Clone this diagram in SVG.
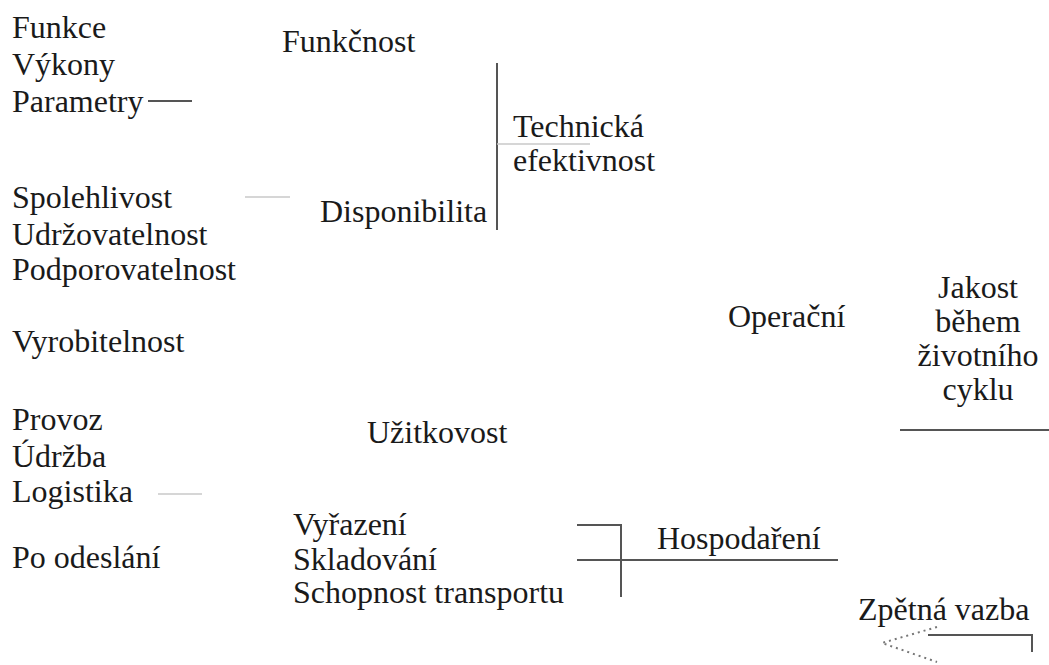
<svg xmlns="http://www.w3.org/2000/svg" width="1049" height="665" viewBox="0 0 1049 665">
<style>
.t{font-family:"Liberation Serif",serif;font-size:32px;fill:#1a1a1a}
.c{text-anchor:middle}
.dark{stroke:#555;stroke-width:2;fill:none}
.light{stroke:#c8c8c8;stroke-width:1.5;fill:none}
.dot{stroke:#777;stroke-width:2;stroke-dasharray:2 4;fill:none}
</style>
<rect width="1049" height="665" fill="#fff"/>
<g id="connectors">
<line class="dark" x1="148" y1="101" x2="192" y2="101"/>
<line class="light" x1="245" y1="197" x2="290" y2="197"/>
<line class="dark" x1="497" y1="63" x2="497" y2="230"/>
<line class="light" x1="497" y1="144" x2="590" y2="144"/>
<line class="dark" x1="900" y1="430" x2="1049" y2="430"/>
<line class="light" x1="158" y1="494" x2="202" y2="494"/>
<polyline class="dark" points="577,525 621,525 621,597"/>
<line class="dark" x1="577" y1="560" x2="838" y2="560"/>
<polyline class="dark" points="1032,652 1032,635 928,635"/>
<polyline class="dot" points="937,627 882,643 937,662"/>
</g>
<g id="n-funkce"><text class="t" style="font-family:'Liberation Serif',serif" x="12" y="38">Funkce</text><text class="t" style="font-family:'Liberation Serif',serif" x="12" y="75">Výkony</text><text class="t" style="font-family:'Liberation Serif',serif" x="12" y="112">Parametry</text></g>
<g id="n-funkcnost"><text class="t" style="font-family:'Liberation Serif',serif" x="282" y="52">Funkčnost</text></g>
<g id="n-spolehlivost"><text class="t" style="font-family:'Liberation Serif',serif" x="12" y="208">Spolehlivost</text><text class="t" style="font-family:'Liberation Serif',serif" x="12" y="245">Udržovatelnost</text><text class="t" style="font-family:'Liberation Serif',serif" x="12" y="280">Podporovatelnost</text></g>
<g id="n-disponibilita"><text class="t" style="font-family:'Liberation Serif',serif" x="320" y="222">Disponibilita</text></g>
<g id="n-technicka"><text class="t" style="font-family:'Liberation Serif',serif" x="513" y="137">Technická</text><text class="t" style="font-family:'Liberation Serif',serif" x="513" y="171">efektivnost</text></g>
<g id="n-vyrobitelnost"><text class="t" style="font-family:'Liberation Serif',serif" x="12" y="352">Vyrobitelnost</text></g>
<g id="n-operacni"><text class="t" style="font-family:'Liberation Serif',serif" x="728" y="327">Operační</text></g>
<g id="n-jakost"><text class="t c" style="font-family:'Liberation Serif',serif" x="978" y="298">Jakost</text><text class="t c" style="font-family:'Liberation Serif',serif" x="978" y="332">během</text><text class="t c" style="font-family:'Liberation Serif',serif" x="978" y="366">životního</text><text class="t c" style="font-family:'Liberation Serif',serif" x="978" y="400">cyklu</text></g>
<g id="n-provoz"><text class="t" style="font-family:'Liberation Serif',serif" x="12" y="430">Provoz</text><text class="t" style="font-family:'Liberation Serif',serif" x="12" y="467">Údržba</text><text class="t" style="font-family:'Liberation Serif',serif" x="12" y="502">Logistika</text></g>
<g id="n-uzitkovost"><text class="t" style="font-family:'Liberation Serif',serif" x="367" y="443">Užitkovost</text></g>
<g id="n-poodeslani"><text class="t" style="font-family:'Liberation Serif',serif" x="12" y="568">Po odeslání</text></g>
<g id="n-vyrazeni"><text class="t" style="font-family:'Liberation Serif',serif" x="293" y="535">Vyřazení</text><text class="t" style="font-family:'Liberation Serif',serif" x="293" y="570">Skladování</text><text class="t" style="font-family:'Liberation Serif',serif" x="293" y="603">Schopnost transportu</text></g>
<g id="n-hospodareni"><text class="t" style="font-family:'Liberation Serif',serif" x="657" y="549">Hospodaření</text></g>
<g id="n-zpetna"><text class="t" style="font-family:'Liberation Serif',serif" x="858" y="620">Zpětná vazba</text></g>
</svg>
